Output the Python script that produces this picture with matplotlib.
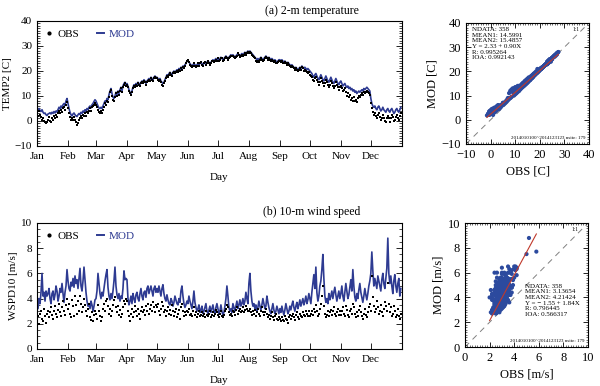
import numpy as np
import matplotlib
matplotlib.use("Agg")
import matplotlib.pyplot as plt
from matplotlib.ticker import MultipleLocator
from matplotlib.lines import Line2D

plt.rcParams['font.family'] = ['Liberation Serif', 'DejaVu Serif']
plt.rcParams['axes.unicode_minus'] = True

# daily values, one row per month (Jan .. Dec)
temp_obs = [
    3.5, 2.0, 4.0, 2.5, 1.5, 0.5, 1.0, 0.0, -0.5, -1.0, -0.5, 0.5, 1.5, 0.0, -0.5, 1.0, 0.5, 2.0, 1.0, 2.5, 1.5, 3.0, 4.0, 3.0, 4.5, 3.5, 5.0, 5.5, 4.5, 6.5, 7.5,
    5.0, 3.0, 1.5, 0.5, 1.0, 0.5, 1.5, 0.5, -0.5, -1.5, -1.0, 0.5, 1.0, 2.0, 1.0, 2.5, 2.0, 3.0, 2.0, 3.5, 3.0, 4.0, 5.0, 4.0, 5.5, 6.0, 6.5, 7.0,
    6.5, 5.5, 4.5, 3.5, 3.0, 4.0, 3.0, 4.5, 5.5, 7.0, 6.5, 8.0, 7.5, 9.5, 11.5, 12.5, 10.0, 8.5, 8.0, 9.5, 11.0, 10.0, 11.5, 10.5, 12.0, 13.0, 11.5, 13.5, 14.5, 15.0, 14.0,
    14.5, 13.5, 12.0, 11.0, 10.5, 11.5, 13.0, 14.0, 13.5, 14.5, 14.0, 15.0, 14.5, 14.0, 15.0, 15.5, 15.0, 16.0, 15.5, 14.5, 15.5, 16.0, 16.5, 16.0, 17.0, 16.5, 16.0, 17.0, 17.5, 17.0,
    17.0, 16.5, 16.0, 16.5, 15.5, 14.5, 14.0, 15.0, 16.0, 17.0, 18.0, 17.5, 18.5, 19.0, 18.5, 18.0, 19.0, 19.5, 19.0, 19.5, 20.0, 19.5, 20.5, 20.0, 21.0, 20.5, 21.5, 21.0, 22.0, 23.0, 24.0,
    24.5, 23.5, 22.5, 22.0, 21.5, 22.0, 23.0, 22.0, 21.5, 22.0, 23.0, 22.0, 23.0, 23.5, 22.5, 22.0, 23.0, 23.5, 22.5, 23.0, 24.0, 23.0, 22.5, 23.0, 24.0, 24.0, 23.5, 24.0, 24.5, 24.0,
    25.0, 24.0, 24.5, 25.0, 25.0, 24.0, 24.5, 25.0, 25.5, 25.0, 24.5, 25.0, 25.5, 26.0, 26.0, 26.0, 25.5, 25.0, 25.5, 26.0, 27.0, 26.5, 25.5, 26.0, 26.5, 26.0, 26.5, 27.0, 26.5, 27.0, 27.5,
    27.0, 27.5, 27.0, 26.5, 26.0, 25.5, 25.0, 24.0, 23.5, 24.0, 23.5, 24.5, 25.0, 24.5, 24.0, 24.5, 25.0, 25.5, 25.0, 24.5, 25.0, 24.5, 24.0, 24.5, 24.0, 23.5, 24.0, 23.0, 23.0, 23.5, 24.0,
    24.0, 23.5, 24.0, 23.0, 23.0, 23.5, 23.0, 22.5, 23.0, 22.5, 22.0, 21.5, 22.0, 21.5, 21.0, 20.5, 21.0, 20.5, 20.0, 20.5, 21.0, 20.5, 21.5, 21.0, 20.0, 20.5, 20.0, 19.5, 19.0, 19.5,
    18.5, 18.0, 17.5, 16.5, 16.0, 17.0, 17.5, 16.5, 15.5, 14.5, 15.5, 17.0, 16.0, 15.0, 14.0, 15.0, 16.5, 15.5, 14.5, 13.5, 14.5, 16.0, 15.0, 14.0, 13.0, 14.0, 15.5, 14.5, 13.5, 12.5, 13.5,
    14.0, 13.0, 12.0, 12.5, 13.0, 11.5, 10.0, 11.0, 9.5, 10.5, 8.5, 9.0, 8.0, 9.5, 8.0, 8.5, 7.5, 9.0, 10.0, 9.5, 10.5, 11.0, 10.5, 11.5, 11.0, 11.5, 12.0, 11.5, 11.0, 10.5,
    7.0, 5.0, 3.5, 2.5, 3.0, 2.0, 1.0, 2.5, 3.0, 1.5, 0.5, 1.0, 2.5, 1.0, 0.0, -0.5, 1.0, 2.0, 1.0, -0.5, 1.0, 2.5, 1.5, 0.0, 0.5, 1.5, 2.5, 1.0, 0.5, 2.0, 3.0,
]
temp_mod = [
    4.5, 4.0, 5.0, 4.2, 3.8, 4.5, 3.5, 3.0, 3.2, 2.5, 2.2, 2.8, 3.0, 3.3, 2.8, 3.5, 3.0, 3.8, 3.2, 4.0, 3.6, 4.5, 5.5, 4.8, 6.0, 5.2, 6.5, 7.0, 6.2, 8.0, 9.0,
    7.0, 5.0, 3.5, 2.5, 2.0, 2.8, 3.2, 2.5, 2.0, 1.8, 2.5, 3.0, 2.6, 3.5, 3.0, 4.0, 3.5, 4.5, 3.8, 5.0, 4.5, 5.5, 6.0, 5.2, 6.5, 7.0, 7.8, 8.5,
    8.0, 7.0, 6.0, 5.2, 5.0, 5.5, 5.0, 6.0, 7.0, 8.0, 7.5, 9.0, 8.5, 10.5, 12.0, 13.0, 11.0, 9.5, 9.0, 10.0, 11.5, 10.5, 12.0, 11.0, 12.5, 13.5, 12.0, 14.0, 15.0, 15.5, 14.5,
    15.0, 14.0, 12.5, 11.5, 11.0, 12.0, 13.5, 14.5, 14.0, 15.0, 14.5, 15.5, 15.0, 14.5, 15.5, 16.0, 15.5, 16.5, 16.0, 15.0, 16.0, 16.5, 17.0, 16.5, 17.5, 17.0, 16.5, 17.5, 18.0, 17.5,
    17.5, 17.0, 16.5, 17.0, 16.0, 15.5, 15.0, 15.5, 16.5, 17.5, 18.5, 18.0, 19.0, 19.5, 19.0, 18.5, 19.5, 20.0, 19.5, 20.0, 20.5, 20.0, 21.0, 20.5, 21.5, 21.0, 22.0, 21.5, 22.5, 23.0, 24.0,
    24.0, 23.5, 23.0, 22.5, 22.0, 22.5, 23.0, 22.5, 22.0, 22.5, 23.0, 22.5, 23.0, 23.5, 23.0, 22.5, 23.0, 23.5, 23.0, 23.5, 24.0, 23.5, 23.0, 23.5, 24.0, 24.5, 24.0, 24.5, 25.0, 24.5,
    25.0, 24.5, 25.0, 25.5, 25.0, 24.5, 25.0, 25.5, 26.0, 25.5, 25.0, 25.5, 26.0, 26.5, 26.0, 26.5, 26.0, 25.5, 26.0, 26.5, 27.0, 26.5, 26.0, 26.5, 27.0, 26.5, 27.0, 27.5, 27.0, 27.5, 28.0,
    27.5, 28.0, 27.5, 27.0, 26.5, 26.0, 25.5, 25.0, 24.5, 25.0, 24.5, 25.0, 25.5, 25.0, 24.5, 25.0, 25.5, 26.0, 25.5, 25.0, 25.5, 25.0, 24.5, 25.0, 24.5, 24.0, 24.5, 24.0, 23.5, 24.0, 24.5,
    24.5, 24.0, 24.5, 24.0, 23.5, 24.0, 23.5, 23.0, 23.5, 23.0, 22.5, 22.0, 22.5, 22.0, 21.5, 21.0, 21.5, 21.0, 20.5, 21.0, 21.5, 21.0, 22.0, 21.5, 21.0, 21.5, 21.0, 20.5, 21.0, 20.5,
    20.0, 19.5, 19.0, 18.0, 17.5, 18.5, 19.0, 18.0, 17.0, 16.5, 17.5, 18.5, 17.5, 16.5, 16.0, 17.0, 18.0, 17.0, 16.0, 15.5, 16.5, 17.5, 16.5, 15.5, 15.0, 16.0, 17.0, 16.0, 15.0, 14.5, 15.5,
    16.0, 15.0, 14.0, 14.5, 15.0, 14.0, 13.5, 14.0, 13.0, 13.5, 12.5, 13.0, 12.0, 12.5, 11.5, 12.0, 11.0, 11.5, 12.0, 11.5, 12.0, 12.5, 12.0, 13.0, 12.5, 13.0, 13.5, 13.0, 12.5, 12.0,
    9.0, 7.0, 6.0, 5.5, 6.0, 5.0, 4.5, 5.5, 6.0, 5.0, 4.0, 4.5, 5.5, 4.5, 4.0, 3.5, 4.5, 5.0, 4.0, 3.5, 4.5, 5.0, 4.0, 3.0, 3.5, 4.5, 5.0, 4.0, 3.5, 4.5, 5.5,
]
wind_obs = [
    2.2, 2.6, 2.0, 2.8, 3.0, 2.4, 2.2, 3.2, 2.6, 2.1, 2.8, 3.0, 2.5, 2.9, 3.3, 2.7, 2.4, 3.0, 3.4, 2.8, 2.5, 3.1, 3.6, 2.9, 2.6, 3.3, 3.8, 3.0, 2.7, 3.5, 4.0,
    3.2, 3.6, 2.8, 2.5, 3.9, 3.4, 2.6, 4.2, 3.5, 2.8, 3.8, 3.0, 4.2, 3.6, 2.9, 3.3, 4.0, 3.5, 3.0, 2.6, 3.2, 3.6, 2.5, 2.3, 2.9, 2.2, 2.7, 3.0,
    2.8, 2.4, 3.5, 3.0, 2.6, 2.2, 2.5, 3.2, 3.6, 3.0, 3.8, 4.0, 3.4, 2.8, 3.2, 2.6, 3.0, 3.5, 3.9, 4.1, 3.3, 2.9, 3.4, 2.7, 3.1, 2.5, 2.8, 3.3, 3.8, 3.6, 4.0,
    3.8, 3.0, 2.6, 2.2, 2.8, 3.2, 2.5, 2.9, 3.4, 3.0, 2.6, 3.2, 2.8, 2.4, 3.0, 3.3, 2.9, 3.1, 2.7, 3.4, 3.0, 3.6, 2.8, 3.2, 3.5, 3.0, 3.7, 3.3, 2.9, 3.5,
    3.3, 3.6, 3.0, 2.7, 3.2, 3.7, 3.4, 2.9, 3.1, 2.6, 3.0, 3.3, 2.8, 3.1, 2.7, 3.5, 3.0, 2.6, 2.9, 3.2, 2.5, 2.8, 3.1, 2.4, 3.3, 3.6, 3.0, 2.6, 2.9, 2.7, 3.0,
    2.9, 3.2, 2.7, 2.8, 2.6, 3.0, 3.3, 2.7, 2.9, 2.5, 2.8, 3.0, 2.6, 2.7, 2.9, 2.6, 2.8, 2.5, 3.0, 2.7, 2.6, 2.8, 3.0, 2.5, 2.7, 2.9, 2.6, 2.8, 3.1, 2.9,
    2.7, 2.5, 2.8, 3.0, 2.6, 2.5, 2.7, 3.0, 3.2, 3.5, 3.3, 2.9, 2.7, 2.8, 2.6, 3.0, 2.9, 2.7, 3.1, 3.3, 2.8, 3.0, 3.2, 2.9, 3.0, 3.3, 2.9, 3.1, 3.4, 3.2, 3.0,
    3.0, 3.2, 2.9, 2.7, 3.0, 2.8, 3.1, 2.6, 2.9, 3.2, 2.8, 2.6, 3.0, 3.3, 2.9, 2.7, 2.9, 3.2, 2.8, 2.5, 2.7, 2.4, 2.6, 2.9, 2.5, 2.3, 2.6, 2.8, 2.4, 2.3, 2.5,
    2.4, 2.2, 2.5, 2.3, 2.2, 2.6, 2.4, 2.3, 2.1, 2.5, 2.7, 2.4, 2.6, 2.8, 2.5, 2.3, 2.7, 2.9, 2.5, 2.4, 2.8, 2.6, 2.5, 2.9, 2.7, 2.6, 3.0, 2.8, 2.6, 3.0,
    2.6, 2.8, 3.0, 2.7, 3.2, 2.9, 3.5, 3.0, 2.6, 2.8, 3.2, 3.6, 4.2, 5.0, 3.4, 2.8, 2.5, 2.7, 3.0, 2.6, 2.9, 3.1, 2.7, 3.0, 3.3, 2.8, 2.6, 2.9, 3.2, 2.7, 3.0,
    2.7, 3.0, 3.3, 2.8, 2.6, 3.4, 3.1, 2.7, 2.5, 3.0, 3.2, 2.8, 3.6, 3.3, 2.8, 2.5, 2.9, 2.6, 3.1, 3.4, 2.9, 2.6, 2.4, 2.8, 3.2, 2.7, 2.5, 2.9, 3.3, 3.6,
    3.0, 5.8, 4.1, 3.4, 2.9, 3.2, 3.8, 3.3, 2.8, 3.0, 3.5, 2.9, 2.6, 3.2, 3.7, 3.4, 3.0, 5.2, 3.6, 2.9, 3.3, 2.6, 2.8, 3.4, 3.0, 2.5, 2.7, 3.2, 2.6, 2.4, 2.8,
]
wind_mod = [
    4.3, 3.2, 4.0, 3.6, 4.5, 6.0, 4.2, 4.5, 3.8, 4.6, 4.2, 4.4, 4.8, 4.0, 3.6, 4.4, 4.6, 3.9, 4.3, 5.0, 4.6, 3.8, 4.2, 4.8, 4.5, 5.2, 4.4, 3.7, 4.5, 5.0, 6.3,
    5.4, 4.8, 4.6, 5.3, 5.0, 5.6, 4.9, 5.8, 5.2, 5.5, 4.8, 5.6, 6.4, 5.0, 4.6, 5.4, 6.5, 5.5, 4.5, 3.8, 3.4, 3.6, 3.2, 3.8, 3.5, 3.0, 3.4, 3.9,
    4.0, 4.6, 6.0, 5.2, 4.4, 4.0, 4.5, 4.2, 4.8, 5.4, 5.9, 6.3, 4.9, 4.2, 3.9, 4.4, 4.0, 4.6, 5.4, 6.5, 5.0, 4.3, 4.0, 4.4, 3.8, 4.2, 4.0, 4.8, 6.2, 5.5, 5.6,
    5.5, 4.0, 3.5, 3.8, 4.2, 3.6, 4.4, 4.0, 3.7, 4.3, 4.5, 4.0, 3.8, 4.4, 4.8, 4.2, 3.9, 4.5, 4.6, 4.1, 4.8, 5.0, 4.4, 4.7, 5.0, 4.6, 4.2, 4.8, 5.0, 4.5,
    4.8, 4.5, 5.0, 4.6, 4.2, 4.8, 5.1, 4.4, 4.0, 3.8, 4.3, 3.9, 3.6, 3.5, 4.0, 3.8, 3.4, 3.7, 4.2, 3.9, 3.6, 3.5, 4.0, 3.7, 4.6, 5.0, 4.2, 3.6, 3.3, 3.5, 3.8,
    3.6, 4.2, 3.8, 3.5, 3.2, 3.8, 4.6, 3.7, 3.3, 3.0, 3.2, 3.5, 2.9, 3.1, 3.4, 2.8, 3.0, 3.3, 3.6, 3.0, 2.8, 3.1, 3.4, 2.9, 3.2, 3.5, 3.0, 2.8, 3.3, 3.6,
    3.2, 2.8, 3.0, 3.5, 3.0, 2.7, 2.9, 3.4, 4.0, 5.0, 4.2, 3.3, 3.0, 3.2, 2.9, 3.6, 3.3, 3.0, 3.4, 3.8, 3.2, 3.5, 3.9, 3.4, 3.6, 4.0, 3.5, 3.8, 4.5, 4.0, 3.6,
    5.2, 6.0, 4.6, 3.8, 3.4, 3.6, 3.2, 3.5, 3.0, 3.3, 3.8, 3.4, 3.1, 3.5, 4.0, 3.6, 3.2, 3.4, 4.2, 3.7, 3.3, 3.0, 2.8, 3.2, 3.6, 3.1, 2.8, 3.0, 3.4, 3.1, 2.8,
    3.2, 2.9, 3.4, 3.0, 2.7, 3.1, 3.6, 3.2, 2.8, 3.0, 3.4, 3.1, 3.5, 3.8, 3.3, 3.0, 3.4, 3.7, 3.2, 3.5, 3.9, 3.4, 3.7, 4.0, 3.5, 3.8, 4.2, 3.6, 3.9, 4.4,
    4.0, 3.6, 4.5, 5.2, 5.9, 4.8, 6.5, 4.5, 3.8, 4.2, 5.0, 5.4, 6.3, 7.5, 5.6, 4.2, 3.7, 4.0, 3.6, 4.4, 3.9, 4.2, 4.6, 4.0, 4.5, 4.9, 4.3, 3.8, 4.2, 4.6, 4.0,
    4.4, 5.0, 4.2, 3.8, 4.5, 5.2, 4.6, 4.0, 4.3, 4.9, 5.5, 4.6, 6.3, 5.0, 4.1, 3.8, 4.4, 4.0, 4.7, 5.2, 4.5, 4.1, 3.7, 4.2, 4.8, 4.3, 3.9, 4.4, 5.0, 5.4,
    6.0, 7.7, 6.2, 5.0, 5.6, 5.2, 4.8, 5.8, 5.4, 5.0, 4.6, 5.5, 6.0, 5.2, 4.8, 5.6, 6.4, 8.8, 6.0, 5.2, 5.8, 5.0, 4.4, 5.4, 5.9, 5.0, 4.5, 5.2, 5.6, 4.2, 4.8,
]

month_starts = [0, 31, 59, 90, 120, 151, 181, 212, 243, 273, 304, 334]
month_names = ['Jan', 'Feb', 'Mar', 'Apr', 'May', 'Jun', 'Jul', 'Aug', 'Sep', 'Oct', 'Nov', 'Dec']

temp_stats = ['NDATA: 358', 'MEAN1: 14.5991', 'MEAN2: 15.4857',
              'Y = 2.33 + 0.90X', 'R: 0.995264', 'IOA: 0.992143']
wind_stats = ['NDATA: 358', 'MEAN1: 3.13654', 'MEAN2: 4.21424',
              'Y = \u2212 1.55 + 1.84X', 'R: 0.796445', 'IOA: 0.566317']
temp_fit = (2.33, 0.90)
wind_fit = (-1.55, 1.84)
period_text = '2014010100~2014123123 nsite: 179'

mod_color = '#2e3b92'
dot_color = '#2c4a9e'
days = np.arange(len(temp_obs))

fig = plt.figure(figsize=(6.0, 3.86), dpi=100)


def series_panel(rect, obs, mod, ylim, major, minor, ylabel):
    ax = fig.add_axes(rect)
    ax.plot(days, mod, color=mod_color, lw=1.2, zorder=2)
    ax.plot(days, obs, 's', color='black', ms=2.0, mew=0, zorder=3)
    ax.set_xlim(0, 365)
    ax.set_ylim(*ylim)
    ax.set_xticks(month_starts)
    ax.set_xticklabels(month_names, fontsize=8)
    ax.yaxis.set_major_locator(MultipleLocator(major))
    ax.yaxis.set_minor_locator(MultipleLocator(minor))
    ax.tick_params(axis='y', which='both', direction='in', right=True, labelsize=8)
    ax.tick_params(axis='y', which='major', length=4, width=0.6)
    ax.tick_params(axis='y', which='minor', length=2, width=0.5)
    ax.tick_params(axis='x', direction='in', length=4, width=0.6, pad=4)
    ax.set_ylabel(ylabel, fontsize=8, labelpad=2)
    ax.set_xlabel('Day', fontsize=8, labelpad=9)
    for s in ax.spines.values():
        s.set_linewidth(0.8)
    handles = [Line2D([], [], ls='none', marker='o', ms=2, color='black'),
               Line2D([], [], color=mod_color, lw=1.4)]
    leg = ax.legend(handles, ['OBS', 'MOD'], loc='upper left', ncol=2, frameon=False,
                    fontsize=8, handlelength=0.7, handletextpad=0.4, columnspacing=1.6,
                    borderaxespad=0.3, bbox_to_anchor=(0.0, 1.0))
    leg.get_texts()[1].set_color(mod_color)
    return ax


def scatter_panel(rect, obs, mod, lim, major, minor, label_unit, fit, stats, stats_xy):
    ax = fig.add_axes(rect)
    ax.plot(lim, lim, ls=(0, (6, 5)), color='gray', lw=0.7, zorder=1)
    ax.scatter(obs, mod, s=9, color=dot_color, edgecolors='none', zorder=2)
    xs = np.array([min(obs), max(obs)])
    ax.plot(xs, fit[0] + fit[1] * xs, color='#c0392b', lw=0.8, zorder=3)
    ax.set_xlim(*lim)
    ax.set_ylim(*lim)
    for axis in (ax.xaxis, ax.yaxis):
        axis.set_major_locator(MultipleLocator(major))
        axis.set_minor_locator(MultipleLocator(minor))
    ax.tick_params(which='both', direction='in', top=True, right=True, labelsize=9)
    ax.tick_params(which='major', length=3.5, width=0.6)
    ax.tick_params(which='minor', length=1.5, width=0.4)
    ax.set_xlabel('OBS [%s]' % label_unit, fontsize=9, labelpad=3)
    ax.set_ylabel('MOD [%s]' % label_unit, fontsize=9, labelpad=2)
    for s in ax.spines.values():
        s.set_linewidth(0.8)
    ax.text(stats_xy[0], stats_xy[1], '\n'.join(stats), transform=ax.transAxes,
            fontsize=5, va='top', ha='left', linespacing=1.15)
    ax.text(0.97, 0.035, period_text, transform=ax.transAxes, fontsize=3.6,
            ha='right', va='bottom')
    ax.text(0.92, 0.97, '1:1', transform=ax.transAxes, fontsize=4,
            ha='right', va='top')
    return ax


series_panel([0.0617, 0.6218, 0.608, 0.3238], temp_obs, temp_mod, (-10, 40), 10, 1, 'TEMP2 [C]')
scatter_panel([0.7767, 0.627, 0.205, 0.3135], temp_obs, temp_mod, (-10, 40), 10, 1, 'C',
              temp_fit, temp_stats, (0.045, 0.965))
series_panel([0.0617, 0.0959, 0.608, 0.3264], wind_obs, wind_mod, (0, 10), 2, 0.5, 'WSPD10 [m/s]')
scatter_panel([0.775, 0.101, 0.205, 0.321], wind_obs, wind_mod, (0, 10), 2, 0.2, 'm/s',
              wind_fit, wind_stats, (0.49, 0.51))

fig.text(0.52, 0.972, '(a) 2-m temperature', fontsize=8.5, ha='center', va='center')
fig.text(0.519, 0.451, '(b) 10-m wind speed', fontsize=8.5, ha='center', va='center')

fig.savefig('out.png', dpi=100)
